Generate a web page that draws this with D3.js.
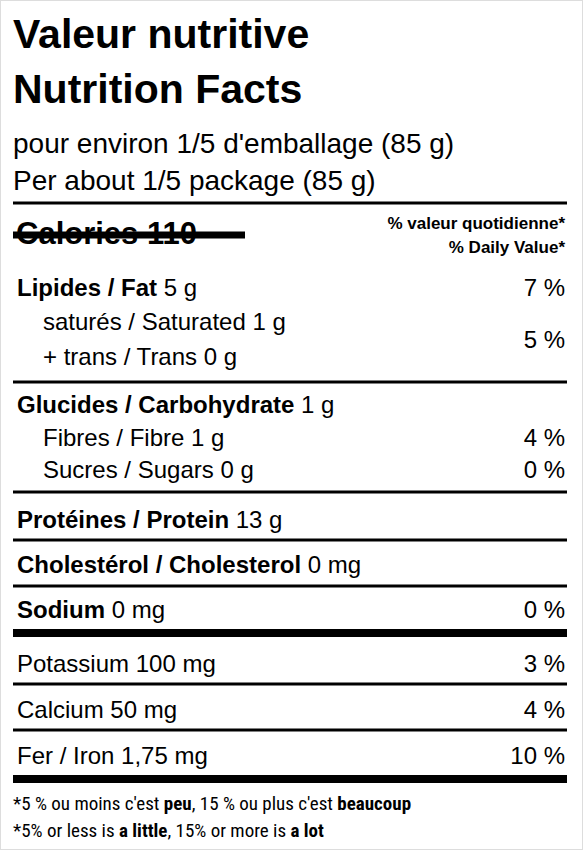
<!DOCTYPE html>
<html><head><meta charset="utf-8">
<script src="https://cdn.jsdelivr.net/npm/d3@7"></script>
<style>body{margin:0;background:#fff}svg{display:block;font-family:"Liberation Sans",Arial,sans-serif}</style>
</head><body><div id="chart"></div>
<script>
// label rows: bold part, regular part, daily value, indent, baseline
const boldParts = ["Lipides / Fat", "", "", "Glucides / Carbohydrate", "", "", "Protéines / Protein", "Cholestérol / Cholesterol", "Sodium", "", "", ""];
const plainParts = [" 5 g", "saturés / Saturated 1 g", "+ trans / Trans 0 g", " 1 g", "Fibres / Fibre 1 g", "Sucres / Sugars 0 g", " 13 g", " 0 mg", " 0 mg", "Potassium 100 mg", "Calcium 50 mg", "Fer / Iron 1,75 mg"];
const dailyValues = ["7 %", "", "", "", "4 %", "0 %", "", "", "0 %", "3 %", "4 %", "10 %"];
const indents = [0, 1, 1, 0, 1, 1, 0, 0, 0, 0, 0, 0];
const baselines = [296, 330, 365, 413, 446, 478, 528, 573, 618, 672, 718, 764];
// combined %DV for saturated + trans
const satTransDV = "5 %";
// separator rules: y, thickness, x end
const rules = [[203, 3, 567], [235, 7, 245], [382, 3, 567], [492, 3, 567], [540, 3, 567], [586, 3, 567], [633, 8, 567], [684, 3, 567], [730, 3, 567], [779, 8, 567]];
const footnotes = [
  [[["*5 % ou moins c'est ", 0], ["peu", 1], [", 15 % ou plus c'est ", 0], ["beaucoup", 1]], 810],
  [[["*5% or less is ", 0], ["a little", 1], [", 15% or more is ", 0], ["a lot", 1]], 837]
];

const svg = d3.select("#chart").append("svg").attr("width", 583).attr("height", 850);
svg.append("rect").attr("x", 0.5).attr("y", 0.5).attr("width", 582).attr("height", 849).attr("fill", "none").attr("stroke", "#ddd");

const L = 13, R = 565;
const title = [["Valeur nutritive", 48], ["Nutrition Facts", 103]];
svg.selectAll(".title").data(title).enter().append("text")
  .attr("x", L).attr("y", d => d[1]).attr("font-size", 41).attr("font-weight", "bold").text(d => d[0]);
const serving = [["pour environ 1/5 d'emballage (85 g)", 153], ["Per about 1/5 package (85 g)", 190]];
svg.selectAll(".serv").data(serving).enter().append("text")
  .attr("x", L).attr("y", d => d[1]).attr("font-size", 28).text(d => d[0]);

svg.append("text").attr("x", 16).attr("y", 244).attr("font-size", 31).attr("font-weight", "bold").text("Calories 110");
svg.append("text").attr("x", R).attr("y", 229).attr("text-anchor", "end").attr("font-size", 17).attr("font-weight", "bold").text("% valeur quotidienne*");
svg.append("text").attr("x", R).attr("y", 253).attr("text-anchor", "end").attr("font-size", 17).attr("font-weight", "bold").text("% Daily Value*");

svg.selectAll(".rule").data(rules).enter().append("rect")
  .attr("x", L).attr("y", d => d[0] - d[1] / 2).attr("width", d => d[2] - L).attr("height", d => d[1]).attr("fill", "#000");

const rows = d3.range(boldParts.length).map(i => ({b: boldParts[i], p: plainParts[i], dv: dailyValues[i], ind: indents[i], y: baselines[i]}));
const g = svg.selectAll(".row").data(rows).enter().append("g");
const t = g.append("text").attr("x", d => L + 4 + d.ind * 26).attr("y", d => d.y).attr("font-size", 24).attr("xml:space", "preserve");
t.append("tspan").attr("font-weight", "bold").text(d => d.b);
t.append("tspan").text(d => d.p);
g.append("text").attr("x", R).attr("y", d => d.y).attr("text-anchor", "end").attr("font-size", 24).text(d => d.dv);
svg.append("text").attr("x", R).attr("y", 348).attr("text-anchor", "end").attr("font-size", 24).text(satTransDV);

footnotes.forEach(([parts, y]) => {
  const ft = svg.append("text").attr("x", L).attr("y", y).attr("font-size", 19).attr("xml:space", "preserve")
    .attr("font-family", "'Liberation Sans Narrow','Roboto Condensed',sans-serif");
  parts.forEach(([s, b]) => ft.append("tspan").attr("font-weight", b ? "bold" : "normal").text(s));
});
</script></body></html>
